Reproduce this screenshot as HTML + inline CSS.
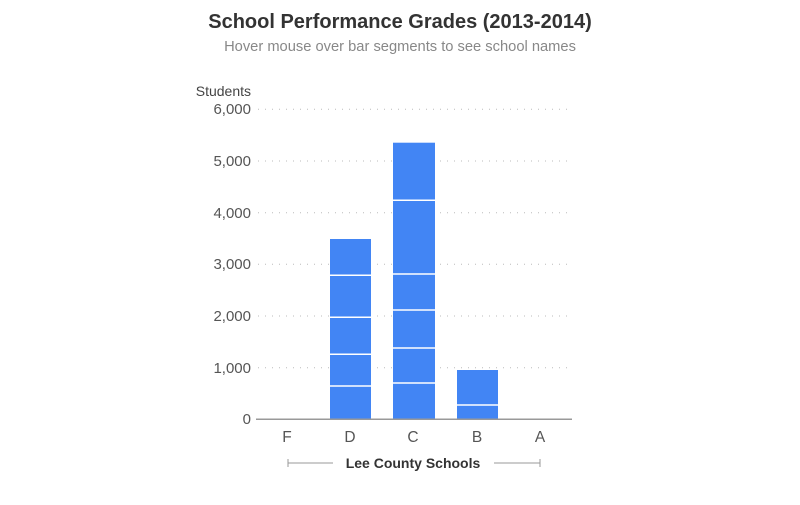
<!DOCTYPE html>
<html><head><style>body{margin:0;background:#fff}</style></head><body>
<svg width="800" height="500" xmlns="http://www.w3.org/2000/svg" font-family="Liberation Sans, sans-serif">
<rect width="800" height="500" fill="#fff"/>
<text x="400" y="28" text-anchor="middle" font-size="20" font-weight="bold" fill="#333">School Performance Grades (2013-2014)</text>
<text x="400" y="51" text-anchor="middle" font-size="14.7" fill="#888">Hover mouse over bar segments to see school names</text>
<text x="251" y="96" text-anchor="end" font-size="14" fill="#444">Students</text>
<g stroke="#bbb" stroke-dasharray="1,6" stroke-width="1">
<line x1="258" x2="572" y1="109.3" y2="109.3"/><line x1="258" x2="572" y1="161" y2="161"/><line x1="258" x2="572" y1="212.7" y2="212.7"/><line x1="258" x2="572" y1="264.3" y2="264.3"/><line x1="258" x2="572" y1="316" y2="316"/><line x1="258" x2="572" y1="367.7" y2="367.7"/>
</g>
<g font-size="15" fill="#555" text-anchor="end">
<text x="251" y="114">6,000</text><text x="251" y="166">5,000</text><text x="251" y="218">4,000</text><text x="251" y="269">3,000</text><text x="251" y="321">2,000</text><text x="251" y="373">1,000</text><text x="251" y="424">0</text>
</g>
<g fill="#4285f4">
<rect x="330" y="239" width="41" height="180.3"/>
<rect x="393" y="142.7" width="42" height="276.6"/>
<rect x="457" y="370" width="41" height="49.3"/>
</g>
<g stroke="#fff" stroke-width="1.5">
<line x1="330" x2="371" y1="275.3" y2="275.3"/><line x1="330" x2="371" y1="317.3" y2="317.3"/><line x1="330" x2="371" y1="354.3" y2="354.3"/><line x1="330" x2="371" y1="386" y2="386"/>
<line x1="393" x2="435" y1="200.3" y2="200.3"/><line x1="393" x2="435" y1="274" y2="274"/><line x1="393" x2="435" y1="310" y2="310"/><line x1="393" x2="435" y1="348" y2="348"/><line x1="393" x2="435" y1="383" y2="383"/>
<line x1="457" x2="498" y1="405" y2="405"/>
</g>
<line x1="256" x2="572" y1="419.3" y2="419.3" stroke="#999" stroke-width="1.5"/>
<g font-size="15.5" fill="#555" text-anchor="middle">
<text x="287" y="442">F</text><text x="350" y="442">D</text><text x="413" y="442">C</text><text x="477" y="442">B</text><text x="540" y="442">A</text>
</g>
<g stroke="#999" stroke-width="1">
<line x1="288" x2="333" y1="463" y2="463"/><line x1="288" x2="288" y1="459" y2="467"/>
<line x1="494" x2="540" y1="463" y2="463"/><line x1="540" x2="540" y1="459" y2="467"/>
</g>
<text x="413" y="468" text-anchor="middle" font-size="14" font-weight="bold" fill="#333">Lee County Schools</text>
</svg>
</body></html>
